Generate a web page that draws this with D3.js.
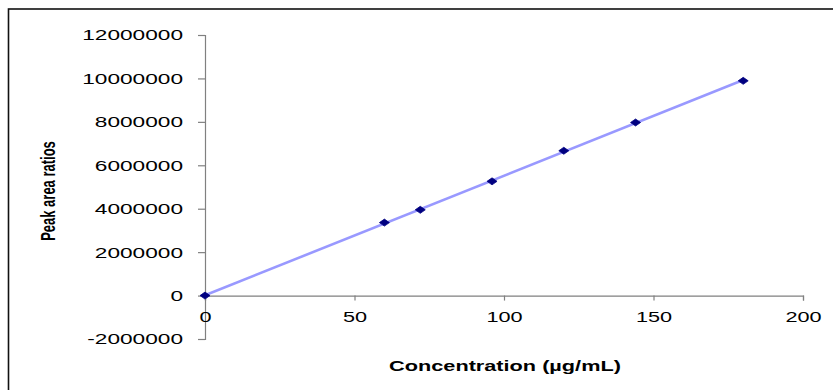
<!DOCTYPE html>
<html>
<head>
<meta charset="utf-8">
<script src="https://cdn.jsdelivr.net/npm/d3@7/dist/d3.min.js"></script>
<style>
  html, body { margin: 0; padding: 0; background: #fff; }
  svg { display: block; font-family: "Liberation Sans", Arial, sans-serif; }
</style>
</head>
<body>
<svg id="chart" width="833" height="390"></svg>
<script>
// ---- data ----
const concentrations = [0, 60, 72, 96, 120, 144, 180];
const peakAreaRatios = [0, 3360000, 3950000, 5260000, 6670000, 7970000, 9890000];
const xTickValues = [0, 50, 100, 150, 200];
const yTickValues = [-2000000, 0, 2000000, 4000000, 6000000, 8000000, 10000000, 12000000];
const xTitle = "Concentration (µg/mL)";
const yTitle = "Peak area ratios";

const svg = d3.select("#chart");
const STRETCH = 1.55;
const Y_STRETCH = 1.62;

// frame
svg.append("rect")
  .attr("x", 8.5).attr("y", 9).attr("width", 1000).attr("height", 600)
  .attr("fill", "none").attr("stroke", "#111").attr("stroke-width", 1.6);

const x = d3.scaleLinear().domain([0, 200]).range([205, 803]);
const y = d3.scaleLinear().domain([-2000000, 12000000]).range([339, 35]);

// y axis
const gy = svg.append("g").attr("transform", `translate(${x(0)},0)`)
  .call(d3.axisLeft(y).tickValues(yTickValues).tickSize(7).tickFormat(d => String(d)));
gy.selectAll("path, line").attr("stroke", "#808080").attr("stroke-width", 1.2);
gy.selectAll("text")
  .attr("x", 0).attr("dy", "0.35em")
  .attr("transform", `translate(-22,0) scale(${Y_STRETCH},1)`)
  .attr("fill", "#000").attr("font-size", 14)
  .attr("font-family", "'Liberation Sans', Arial, sans-serif");

// x axis at y = 0
const gx = svg.append("g").attr("transform", `translate(0,${y(0)})`)
  .call(d3.axisBottom(x).tickValues(xTickValues).tickSize(5).tickFormat(d => String(d)));
gx.selectAll("path, line").attr("stroke", "#808080").attr("stroke-width", 1.2);
gx.selectAll("text")
  .attr("y", 0).attr("dy", 0)
  .attr("transform", `translate(0,26) scale(${STRETCH},1)`)
  .attr("fill", "#000").attr("font-size", 14)
  .attr("font-family", "'Liberation Sans', Arial, sans-serif");

// linear trend line (least squares from the data)
const n = concentrations.length;
const mx = d3.mean(concentrations), my = d3.mean(peakAreaRatios);
let sxy = 0, sxx = 0;
for (let i = 0; i < n; i++) {
  sxy += (concentrations[i] - mx) * (peakAreaRatios[i] - my);
  sxx += (concentrations[i] - mx) ** 2;
}
const slope = sxy / sxx, intercept = my - slope * mx;
const xMin = d3.min(concentrations), xMax = d3.max(concentrations);
svg.append("line")
  .attr("x1", x(xMin)).attr("y1", y(intercept + slope * xMin))
  .attr("x2", x(xMax)).attr("y2", y(intercept + slope * xMax))
  .attr("stroke", "#9999FF").attr("stroke-width", 2.6);

// markers (diamonds)
const pts = concentrations.map((c, i) => ({ c, v: peakAreaRatios[i] }));
svg.append("g").selectAll("path").data(pts).join("path")
  .attr("transform", d => `translate(${x(d.c)},${y(d.v)})`)
  .attr("d", "M-5,0L0,-3.5L5,0L0,3.5Z")
  .attr("fill", "#000080").attr("stroke", "#000080").attr("stroke-width", 0.8);

// axis titles
svg.append("text")
  .attr("transform", `translate(505,371) scale(${STRETCH},1)`)
  .attr("text-anchor", "middle").attr("font-weight", "bold").attr("font-size", 14)
  .attr("fill", "#000").text(xTitle);

svg.append("text")
  .attr("transform", `translate(55,191) scale(${STRETCH},1) rotate(-90)`)
  .attr("text-anchor", "middle").attr("font-weight", "bold").attr("font-size", 13)
  .attr("fill", "#000").text(yTitle);
</script>
</body>
</html>
